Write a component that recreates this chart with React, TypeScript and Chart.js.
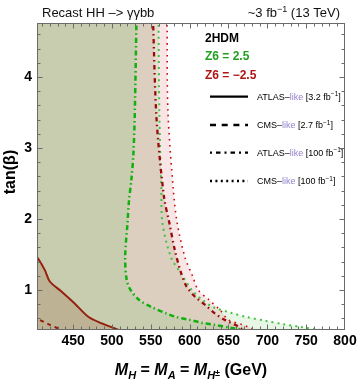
import React, { useEffect, useRef } from 'react';
import { Chart, registerables } from 'chart.js';

Chart.register(...registerables);

// ---- axis ranges & ticks ----
const X_MIN = 403.5;
const X_MAX = 800;
const Y_MIN = 0.437;
const Y_MAX = 4.76;
const xTickValues = [450, 500, 550, 600, 650, 700, 750, 800];
const yTickValues = [1, 2, 3, 4];

// ---- curves (tan beta, mass) ----
// ATLAS-like 100 fb-1, Z6 = 2.5 (green dot-dashed)
const gddTan = [4.9, 4.76, 3.53, 2.93, 2.55, 2.27, 1.94, 1.46, 1.14, 1.0, 0.86, 0.76, 0.67, 0.62, 0.58, 0.54, 0.51, 0.47, 0.44, 0.4];
const gddMass = [532, 531.5, 529.5, 527.7, 525, 522, 520, 517, 519, 524, 535, 551, 570, 583, 600, 615, 632, 652, 668, 690];
// CMS-like 100 fb-1, Z6 = 2.5 (green dotted)
const gdotTan = [4.9, 4.76, 3.5, 2.41, 1.94, 1.46, 1.23, 1.0, 0.86, 0.76, 0.68, 0.62, 0.57, 0.52, 0.48, 0.44, 0.4];
const gdotMass = [560, 560, 561, 563.5, 565, 576, 589, 603, 616.5, 630, 653, 673, 696, 720, 743, 767, 790];
// ATLAS-like 100 fb-1, Z6 = -2.5 (red dot-dashed)
const rddTan = [4.9, 4.76, 3.39, 2.31, 1.94, 1.56, 1.24, 1.05, 0.905, 0.79, 0.675, 0.58, 0.49, 0.44, 0.4];
const rddMass = [553, 553, 557.5, 567, 574, 581, 589, 596, 607, 620, 632, 645, 662, 669, 678];
// CMS-like 100 fb-1, Z6 = -2.5 (red dotted)
const rdotTan = [4.9, 4.76, 3.53, 2.41, 1.94, 1.46, 1.19, 1.0, 0.86, 0.72, 0.58, 0.51, 0.46, 0.4];
const rdotMass = [571, 571, 572, 579, 584, 594, 604, 611, 625, 639, 650, 668, 679, 688];
// ATLAS-like 3.2 fb-1, Z6 = -2.5 (red solid)
const rsolTan = [1.49, 1.47, 1.28, 1.12, 0.98, 0.81, 0.62, 0.53, 0.445, 0.4];
const rsolMass = [398, 403, 413.6, 420, 435, 452, 470, 487, 507, 514];
// CMS-like 2.7 fb-1, Z6 = -2.5 (red dashed)
const rdashTan = [0.62, 0.6, 0.52, 0.44, 0.4];
const rdashMass = [398, 403, 418, 435, 443];

// ---- legend ----
const legendExp = ['ATLAS', 'CMS', 'ATLAS', 'CMS'];
const legendLumi = ['3.2', '2.7', '100', '100'];

const toPts = (tan: number[], mass: number[]) => tan.map((t, i) => ({ x: mass[i], y: t }));

const FONT = '"Liberation Sans", Arial, sans-serif';

type Run = { t: string; f: string; c?: string; dy?: number };

function drawRuns(ctx: CanvasRenderingContext2D, runs: Run[], x: number, y: number, align: 'left' | 'center' | 'right') {
  const widths: number[] = [];
  let total = 0;
  for (const r of runs) {
    ctx.font = r.f;
    const w = ctx.measureText(r.t).width;
    widths.push(w);
    total += w;
  }
  let cx = align === 'left' ? x : align === 'center' ? x - total / 2 : x - total;
  ctx.textAlign = 'left';
  ctx.textBaseline = 'alphabetic';
  runs.forEach((r, i) => {
    ctx.font = r.f;
    ctx.fillStyle = r.c || '#000';
    ctx.fillText(r.t, cx, y + (r.dy || 0));
    cx += widths[i];
  });
}

const decorPlugin = {
  id: 'decor',
  afterDraw(chart: any) {
    const ctx: CanvasRenderingContext2D = chart.ctx;
    const a = chart.chartArea;
    const xs = chart.scales.x;
    const ys = chart.scales.y;
    ctx.save();
    // frame
    ctx.strokeStyle = '#6a6a6a';
    ctx.lineWidth = 1;
    ctx.setLineDash([]);
    const L = Math.round(a.left) + 0.5, R = Math.round(a.right) - 0.5;
    const T = Math.round(a.top) + 0.5, B = Math.round(a.bottom) - 0.5;
    ctx.strokeRect(L, T, R - L, B - T);
    // inward ticks
    ctx.beginPath();
    for (let v = 410; v <= 800; v += 10) {
      const px = Math.round(xs.getPixelForValue(v)) + 0.5;
      if (px <= L || px >= R) continue;
      const len = v % 50 === 0 ? 5 : 3;
      ctx.moveTo(px, B); ctx.lineTo(px, B - len);
      ctx.moveTo(px, T); ctx.lineTo(px, T + len);
    }
    for (let k = 3; k <= 23; k++) {
      const v = k * 0.2;
      const py = Math.round(ys.getPixelForValue(v)) + 0.5;
      if (py <= T || py >= B) continue;
      const len = k % 5 === 0 ? 5 : 3;
      ctx.moveTo(L, py); ctx.lineTo(L + len, py);
      ctx.moveTo(R, py); ctx.lineTo(R - len, py);
    }
    ctx.stroke();

    // header
    drawRuns(ctx, [{ t: 'Recast HH –> γγbb', f: `13px ${FONT}`, c: '#111' }], 42, 17, 'left');
    drawRuns(ctx, [
      { t: '~3 fb', f: `13px ${FONT}`, c: '#111' },
      { t: '−1', f: `9px ${FONT}`, c: '#111', dy: -5 },
      { t: ' (13 TeV)', f: `13px ${FONT}`, c: '#111' },
    ], 340, 17, 'right');

    // x title
    const big = `bold 16px ${FONT}`;
    const bigI = `italic bold 16px ${FONT}`;
    const sub = `italic bold 11px ${FONT}`;
    const cx = (a.left + a.right) / 2;
    drawRuns(ctx, [
      { t: 'M', f: bigI }, { t: 'H', f: sub, dy: 4 },
      { t: ' = ', f: big },
      { t: 'M', f: bigI }, { t: 'A', f: sub, dy: 4 },
      { t: ' = ', f: big },
      { t: 'M', f: bigI }, { t: 'H', f: sub, dy: 4 }, { t: '±', f: `bold 9px ${FONT}`, dy: 1 },
      { t: ' (GeV)', f: big },
    ], cx, 375, 'center');

    // y title
    ctx.save();
    ctx.translate(11, 172);
    ctx.rotate(-Math.PI / 2);
    ctx.font = `bold 16px ${FONT}`;
    ctx.fillStyle = '#000';
    ctx.textAlign = 'center';
    ctx.textBaseline = 'middle';
    ctx.fillText('tan(β)', 0, 0);
    ctx.restore();

    // legend
    drawRuns(ctx, [{ t: '2HDM', f: `bold 12px ${FONT}` }], 205, 42, 'left');
    drawRuns(ctx, [{ t: 'Z6 = 2.5', f: `bold 12px ${FONT}`, c: '#20a020' }], 205, 60, 'left');
    drawRuns(ctx, [{ t: 'Z6 = −2.5', f: `bold 12px ${FONT}`, c: '#b01515' }], 205, 79, 'left');
    const rowY = [96.7, 125, 152.7, 181];
    const dashes = [[], [6, 5.7], [2, 4, 4.5, 4], [2, 3.4]];
    rowY.forEach((yy, i) => {
      ctx.beginPath();
      ctx.setLineDash(dashes[i]);
      ctx.strokeStyle = '#000';
      ctx.lineWidth = 2.3;
      ctx.moveTo(210, yy);
      ctx.lineTo(248, yy);
      ctx.stroke();
      ctx.setLineDash([]);
      const f = `9px ${FONT}`;
      drawRuns(ctx, [
        { t: legendExp[i] + '–', f },
        { t: 'like', f, c: '#9482cc' },
        { t: ' [' + legendLumi[i] + ' fb', f },
        { t: '−1', f: `6.5px ${FONT}`, dy: -3.5 },
        { t: ']', f },
      ], 257, yy + 3.2, 'left');
    });
    ctx.restore();
  },
};

export default function App() {
  const ref = useRef<HTMLCanvasElement | null>(null);
  useEffect(() => {
    if (!ref.current) return;
    const far = { value: 300 };
    const chart = new Chart(ref.current, {
      type: 'line',
      data: {
        datasets: [
          {
            data: toPts(rdashTan, rdashMass),
            borderColor: '#962010', borderWidth: 2, borderDash: [4, 4], fill: false,
          },
          {
            data: toPts(rsolTan, rsolMass),
            borderColor: '#962010', borderWidth: 2, fill: far, backgroundColor: '#bdb394',
          },
          {
            data: toPts(gddTan, gddMass),
            borderColor: '#10b010', borderWidth: 2.5, borderDash: [5, 3, 1.5, 3], fill: far, backgroundColor: '#c8cdaf',
          },
          {
            data: toPts(rddTan, rddMass),
            borderColor: '#9a0a0a', borderWidth: 2.3, borderDash: [4.5, 3.5, 1.5, 3.5], fill: far, backgroundColor: '#dccfbf',
          },
          {
            data: toPts(rdotTan, rdotMass),
            borderColor: '#cc0a0a', borderWidth: 1.6, borderDash: [1.6, 4.4], fill: far, backgroundColor: 'rgba(215,105,105,0.17)',
          },
          {
            data: toPts(gdotTan, gdotMass),
            borderColor: '#45c045', borderWidth: 2, borderDash: [2, 4], fill: far, backgroundColor: 'rgba(120,205,110,0.18)',
          },
        ] as any,
      },
      options: {
        indexAxis: 'y',
        animation: false,
        responsive: false,
        layout: { padding: { top: 23, right: 15, left: 0, bottom: 0 } },
        elements: { point: { radius: 0, hoverRadius: 0 }, line: { tension: 0.3 } },
        plugins: {
          legend: { display: false },
          tooltip: { enabled: false },
          filler: { propagate: false, drawTime: 'beforeDatasetsDraw' },
        } as any,
        scales: {
          x: {
            type: 'linear', position: 'bottom', min: X_MIN, max: X_MAX,
            grid: { display: false, drawTicks: false },
            border: { display: false },
            ticks: { font: { family: FONT, size: 14, weight: 'bold' }, color: '#000', padding: 3, maxRotation: 0, autoSkip: false },
            afterBuildTicks: (s: any) => { s.ticks = xTickValues.map((v) => ({ value: v })); },
            afterFit: (s: any) => { s.height = 51; },
          },
          y: {
            type: 'linear', position: 'left', min: Y_MIN, max: Y_MAX,
            grid: { display: false, drawTicks: false },
            border: { display: false },
            ticks: { font: { family: FONT, size: 14, weight: 'bold' }, color: '#000', padding: 5, autoSkip: false },
            afterBuildTicks: (s: any) => { s.ticks = yTickValues.map((v) => ({ value: v })); },
            afterFit: (s: any) => { s.width = 37; },
          },
        } as any,
      },
      plugins: [decorPlugin],
    });
    return () => chart.destroy();
  }, []);
  return (
    <div style={{ position: 'fixed', left: 0, top: 0, width: 360, height: 381, background: '#fff' }}>
      <canvas ref={ref} width={360} height={381} style={{ display: 'block' }} />
    </div>
  );
}
